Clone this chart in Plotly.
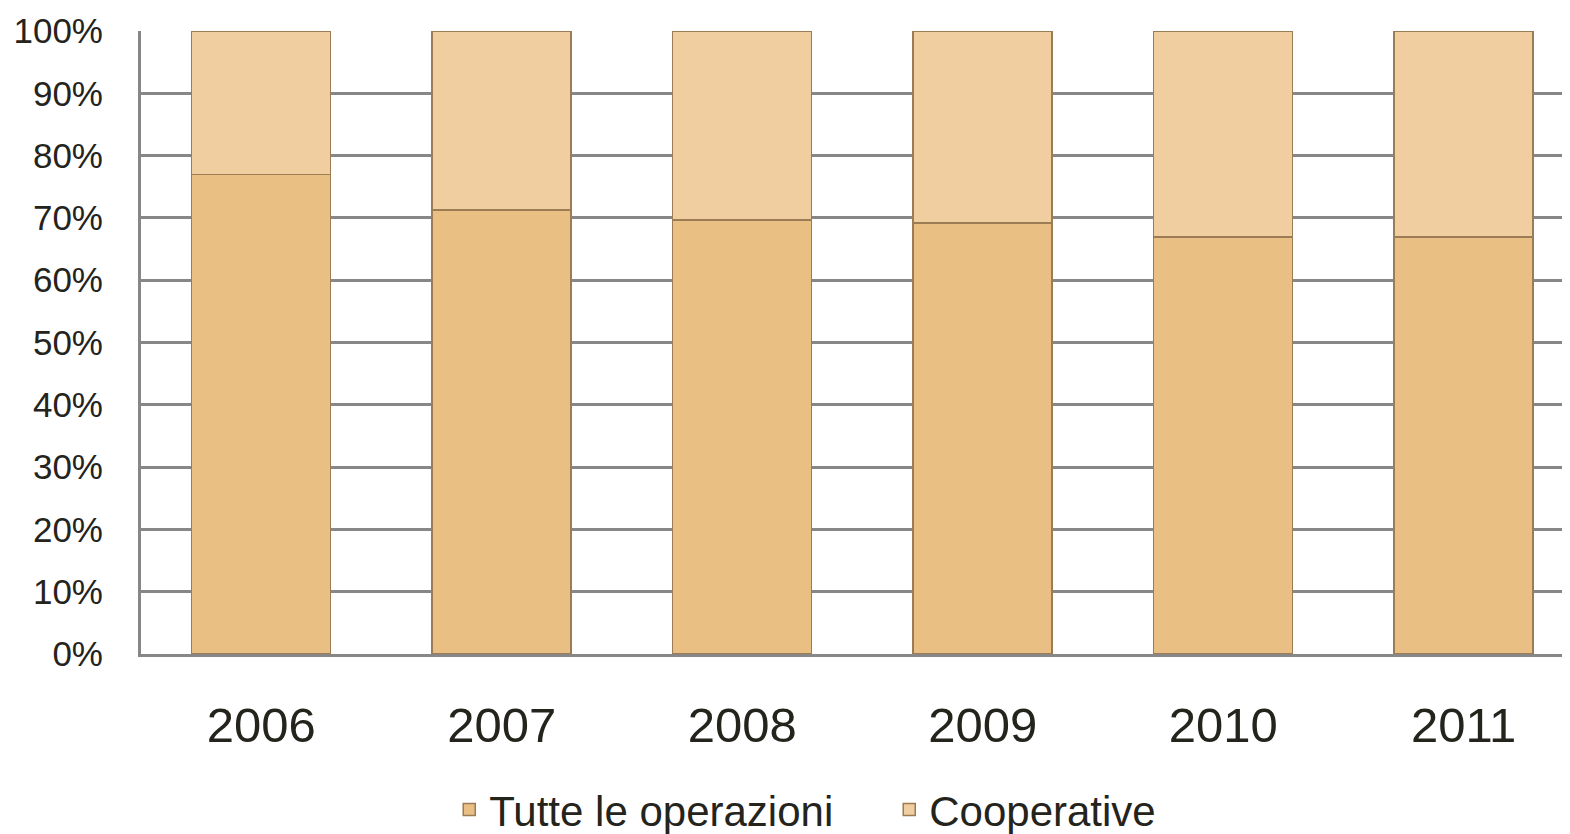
import plotly.graph_objects as go

years = ["2006", "2007", "2008", "2009", "2010", "2011"]
tutte = [0.77, 0.713, 0.697, 0.692, 0.669, 0.669]
cooperative = [round(1 - v, 3) for v in tutte]
y_ticks = [i / 10 for i in range(11)]

txt = "#24231c"
fig = go.Figure()
fig.add_trace(go.Bar(
    x=years, y=tutte, name="Tutte le operazioni",
    marker=dict(color="#EABF83", line=dict(color="#9C7C55", width=1.5)),
))
fig.add_trace(go.Bar(
    x=years, y=cooperative, name="Cooperative",
    marker=dict(color="#F1CE9F", line=dict(color="#9C7C55", width=1.5)),
))

# page body has an 8px default margin; size the figure to fit the 1570x834 window
fig.update_layout(
    barmode="stack",
    bargap=0.422,
    width=1562, height=826,
    margin=dict(l=133, r=2, t=23, b=180, autoexpand=False),
    paper_bgcolor="white", plot_bgcolor="white",
    font=dict(family="Liberation Sans, Arial, sans-serif", color=txt),
    showlegend=True,
    legend=dict(orientation="h", x=0.216, xanchor="left", y=-0.25, yanchor="middle",
                font=dict(size=42, color=txt), itemwidth=30, traceorder="normal",
                entrywidth=395, entrywidthmode="pixels"),
)
fig.update_xaxes(
    range=[-0.5, 5.434], showgrid=False, automargin=False,
    showline=True, linecolor="#878787", linewidth=3,
    tickfont=dict(size=49, color=txt), ticks="", ticklabelstandoff=26,
)
fig.update_yaxes(
    range=[0, 1], tickvals=y_ticks, tickformat=".0%", automargin=False,
    showgrid=True, gridcolor="#878787", gridwidth=2.5,
    showline=True, linecolor="#878787", linewidth=3,
    tickfont=dict(size=35, color=txt), ticks="", ticklabelstandoff=28,
    zeroline=False,
)
fig.write_html("out.html")
